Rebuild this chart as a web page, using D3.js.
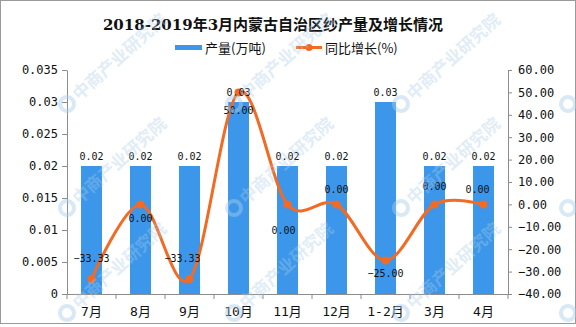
<!DOCTYPE html>
<html>
<head>
<meta charset="utf-8">
<script src="https://cdn.jsdelivr.net/npm/d3@7"></script>
<style>
  html, body { margin: 0; padding: 0; background: #fff; }
  svg { display: block; }
</style>
</head>
<body>
<svg id="chart" width="576" height="327"></svg>
<script>
// Monthly yarn output (10k tonnes) and year-on-year growth (%)
const categories = ["7月", "8月", "9月", "10月", "11月", "12月", "1-2月", "3月", "4月"];
const outputValues = [0.02, 0.02, 0.02, 0.03, 0.02, 0.02, 0.03, 0.02, 0.02];
const growthValues = [-33.33, 0.00, -33.33, 50.00, 0.00, 0.00, -25.00, 0.00, 0.00];
const leftTicks = [0, 0.005, 0.01, 0.015, 0.02, 0.025, 0.03, 0.035];
const leftTickLabels = ["0", "0.005", "0.01", "0.015", "0.02", "0.025", "0.03", "0.035"];
const rightTicks = [-40, -30, -20, -10, 0, 10, 20, 30, 40, 50, 60];

const titleText = "2018-2019年3月内蒙古自治区纱产量及增长情况";
const legendBar = "产量(万吨)";
const legendLine = "同比增长(%)";
const watermarkText = "中商产业研究院";

// label placement for the growth values, relative to each point
const growthLabelShift = [[0, -21], [0, 14], [-7, -21], [0, 18], [-4, 26], [0, -15], [0, 13], [0, -18], [-6, -15]];

const barColor = "#3c97ea";
const lineColor = "#f26b24";
const axisColor = "#8c8c8c";
const monoFont = "'DejaVu Sans Mono', 'Noto Sans CJK SC', monospace";

const svg = d3.select("#chart");
const plotLeft = 67, plotRight = 508, plotTop = 70, plotBottom = 294;

// outer frame
svg.append("rect")
  .attr("x", 0.5).attr("y", 0.5).attr("width", 575).attr("height", 323)
  .attr("fill", "#fff").attr("stroke", "#9a9a9a").attr("stroke-width", 1);

const x = d3.scaleBand().domain(categories).range([plotLeft, plotRight])
  .paddingInner(0.571).paddingOuter(0.2855);
const yL = d3.scaleLinear().domain([0, 0.035]).range([plotBottom, plotTop]);
const yR = d3.scaleLinear().domain([-40, 60]).range([plotBottom, plotTop]);

// title
svg.append("text")
  .attr("x", 273).attr("y", 30)
  .attr("text-anchor", "middle")
  .attr("font-family", "'DejaVu Serif', 'Noto Sans CJK SC', serif")
  .attr("font-weight", "bold").attr("font-size", 15)
  .attr("fill", "#111")
  .text(titleText);

// legend
const lg = svg.append("g").attr("font-family", "'Noto Sans CJK SC', sans-serif").attr("font-size", 13).attr("fill", "#111");
lg.append("rect").attr("x", 175).attr("y", 45).attr("width", 27).attr("height", 5).attr("fill", barColor);
lg.append("text").attr("x", 205).attr("y", 52.5).text(legendBar);
lg.append("line").attr("x1", 296).attr("x2", 322).attr("y1", 47.5).attr("y2", 47.5)
  .attr("stroke", lineColor).attr("stroke-width", 3);
lg.append("circle").attr("cx", 309).attr("cy", 47.5).attr("r", 3.5).attr("fill", lineColor);
lg.append("text").attr("x", 325).attr("y", 52.5).text(legendLine);

// bars
svg.append("g").selectAll("rect").data(outputValues).join("rect")
  .attr("x", (d, i) => x(categories[i]))
  .attr("y", d => yL(d))
  .attr("width", x.bandwidth())
  .attr("height", d => yL(0) - yL(d))
  .attr("fill", barColor);

// left axis
const axL = svg.append("g").attr("transform", `translate(${plotLeft},0)`)
  .call(d3.axisLeft(yL).tickValues(leftTicks).tickSize(5).tickSizeOuter(0)
    .tickFormat((d, i) => leftTickLabels[i]));
// right axis
const axR = svg.append("g").attr("transform", `translate(${plotRight},0)`)
  .call(d3.axisRight(yR).tickValues(rightTicks).tickSize(4).tickSizeOuter(0)
    .tickFormat(d3.format(".2f")));
// bottom axis with ticks on the category boundaries
const axB = svg.append("g").attr("transform", `translate(0,${plotBottom})`)
  .call(d3.axisBottom(x).tickSize(0).tickSizeOuter(0).tickPadding(13));
axB.append("g").selectAll("line").data(d3.range(categories.length + 1)).join("line")
  .attr("x1", i => plotLeft + i * x.step()).attr("x2", i => plotLeft + i * x.step())
  .attr("y1", 0).attr("y2", 5)
  .attr("stroke", axisColor);

[axL, axR, axB].forEach(ax => {
  ax.selectAll(".domain").attr("stroke", axisColor);
  ax.selectAll(".tick line").attr("stroke", axisColor);
  ax.selectAll("text").attr("fill", "#111").attr("font-family", monoFont).attr("font-size", 12);
});
axL.selectAll(".tick text").attr("x", -9);
axR.selectAll(".tick text").attr("x", 10);
axB.selectAll(".tick text").attr("font-size", 13);

// growth line
const cx = i => x(categories[i]) + x.bandwidth() / 2;
const line = d3.line().x((d, i) => cx(i)).y(d => yR(d)).curve(d3.curveCatmullRom.alpha(0));
svg.append("path").datum(growthValues)
  .attr("d", line).attr("fill", "none")
  .attr("stroke", lineColor).attr("stroke-width", 3).attr("stroke-linecap", "round");
svg.append("g").selectAll("circle").data(growthValues).join("circle")
  .attr("cx", (d, i) => cx(i)).attr("cy", d => yR(d)).attr("r", 4)
  .attr("fill", lineColor);

// value labels
const lbl = svg.append("g").attr("font-family", monoFont).attr("font-size", 10)
  .attr("fill", "#111").attr("text-anchor", "middle");
lbl.selectAll("text.bar").data(outputValues).join("text").attr("class", "bar")
  .attr("x", (d, i) => cx(i)).attr("y", d => yL(d) - 6)
  .text(d => d3.format(".2f")(d));
lbl.selectAll("text.growth").data(growthValues).join("text").attr("class", "growth")
  .attr("x", (d, i) => cx(i) + growthLabelShift[i][0])
  .attr("y", (d, i) => yR(d) + growthLabelShift[i][1] + 3.5)
  .text(d => d3.format(".2f")(d));

// faint watermark tiles (logo ring plus name)
const wm = svg.append("g").attr("pointer-events", "none");
[104, 208, 313].forEach(ry => {
  [67, 234, 401, 568].forEach(rx => {
    const t = wm.append("g").attr("transform", `translate(${rx},${ry}) rotate(-42)`);
    t.append("circle").attr("r", 7).attr("fill", "none")
      .attr("stroke", "#a9cbe8").attr("stroke-width", 4).attr("opacity", 0.45);
    if (rx < 500) {
      t.append("text").attr("x", 11).attr("y", 6)
        .attr("font-family", "'Noto Sans CJK SC', sans-serif").attr("font-size", 17)
        .attr("font-weight", "bold")
        .attr("fill", "#a9cbe8").attr("opacity", 0.35)
        .text(watermarkText);
    }
  });
});
</script>
</body>
</html>
